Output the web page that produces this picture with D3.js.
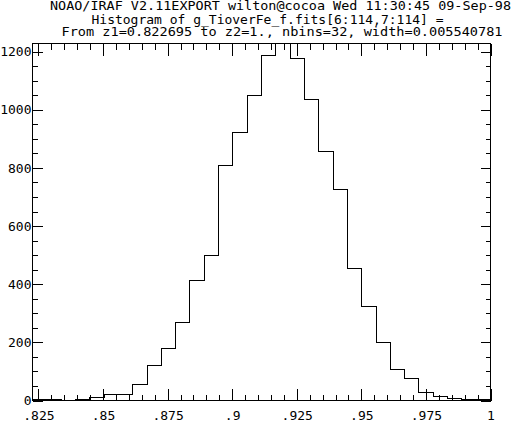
<!DOCTYPE html>
<html>
<head>
<meta charset="utf-8">
<script src="https://cdn.jsdelivr.net/npm/d3@7.9.0/dist/d3.min.js"></script>
<style>
  body { margin: 0; background: #fff; }
  svg { display: block; }
  text { font-family: "DejaVu Sans Mono", monospace; fill: #000; }
</style>
</head>
<body>
<div id="chart"></div>
<script>
// histogram from the IRAF "phistogram" plot
const z1 = 0.822695;
const z2 = 1.0;
const binWidth = 0.005540781;
const counts = [3, 2, 1, 2, 9, 20, 20, 55, 119, 178, 270, 412, 500, 810, 923, 1050,
  1188, 1228, 1177, 1037, 855, 725, 453, 324, 200, 105, 74, 29, 15, 8, 5, 2];

const xTicks = [0.825, 0.85, 0.875, 0.9, 0.925, 0.95, 0.975, 1];
const xTickLabels = [".825", ".85", ".875", ".9", ".925", ".95", ".975", "1"];
const yTicks = [0, 200, 400, 600, 800, 1000, 1200];
const yMax = 1228;

const titleLines = [
  "NOAO/IRAF V2.11EXPORT wilton@cocoa Wed 11:30:45 09-Sep-98",
  "Histogram of g_TioverFe_f.fits[6:114,7:114] =",
  "From z1=0.822695 to z2=1., nbins=32, width=0.005540781"
];

const width = 511, height = 422;
const pLeft = 32.5, pRight = 490.5, pTop = 43.5, pBottom = 400.5;

const svg = d3.select('#chart').append('svg')
  .attr('width', width)
  .attr('height', height);

svg.append('rect').attr('width', width).attr('height', height).attr('fill', '#fff');

let x = d3.scaleLinear().domain([z1, z2]).range([pLeft, pRight]);
let y = d3.scaleLinear().domain([0, yMax]).range([pBottom, pTop]);

// title block
const titlePos = [
  { x: 50, y: 10, len: 461 },
  { x: 91.5, y: 23.5, len: 352 },
  { x: 61.5, y: 36, len: 441 }
];
titleLines.forEach((t, i) => {
  svg.append('text')
    .attr('x', titlePos[i].x)
    .attr('y', titlePos[i].y)
    .attr('font-size', 11.5)
    .attr('textLength', titlePos[i].len)
    .attr('lengthAdjust', 'spacingAndGlyphs')
    .text(t);
});

// minor tick positions
const xMinor = d3.range(0.825, 1.0001, 0.005).filter(v => v <= z2);
const yMinor = d3.range(0, yMax, 50);

function styleAxis(g) {
  g.select('.domain').remove();
  g.selectAll('line').attr('stroke', '#000').attr('shape-rendering', 'crispEdges');
  g.selectAll('text').attr('font-size', 13).attr('font-family', '"DejaVu Sans Mono", monospace');
}

// bottom axis
svg.append('g').attr('transform', `translate(0,${pBottom})`)
  .call(d3.axisBottom(x).tickValues(xMinor).tickSize(-6).tickFormat(''))
  .call(styleAxis);
svg.append('g').attr('transform', `translate(0,${pBottom})`)
  .call(d3.axisBottom(x).tickValues(xTicks).tickSize(-12).tickPadding(10)
    .tickFormat((d, i) => xTickLabels[i]))
  .call(styleAxis);

// top axis
svg.append('g').attr('transform', `translate(0,${pTop})`)
  .call(d3.axisTop(x).tickValues(xMinor).tickSize(-6).tickFormat(''))
  .call(styleAxis);
svg.append('g').attr('transform', `translate(0,${pTop})`)
  .call(d3.axisTop(x).tickValues(xTicks).tickSize(-12).tickFormat(''))
  .call(styleAxis);

// left axis
svg.append('g').attr('transform', `translate(${pLeft},0)`)
  .call(d3.axisLeft(y).tickValues(yMinor).tickSize(-5).tickFormat(''))
  .call(styleAxis);
svg.append('g').attr('transform', `translate(${pLeft},0)`)
  .call(d3.axisLeft(y).tickValues(yTicks).tickSize(-10).tickPadding(1).tickFormat(d3.format('d')))
  .call(styleAxis);

// right axis
svg.append('g').attr('transform', `translate(${pRight},0)`)
  .call(d3.axisRight(y).tickValues(yMinor).tickSize(-5).tickFormat(''))
  .call(styleAxis);
svg.append('g').attr('transform', `translate(${pRight},0)`)
  .call(d3.axisRight(y).tickValues(yTicks).tickSize(-10).tickFormat(''))
  .call(styleAxis);

// histogram outline
svg.append('clipPath').attr('id', 'plot-clip')
  .append('rect').attr('x', pLeft).attr('y', pTop).attr('width', pRight - pLeft).attr('height', pBottom - pTop);

let pts = counts.map((c, i) => [z1 + i * binWidth, c]);
pts.push([z1 + counts.length * binWidth, counts[counts.length - 1]]);

let line = d3.line()
  .x(d => x(d[0]))
  .y(d => y(d[1]))
  .curve(d3.curveStepAfter);

svg.append('path')
  .attr('d', line(pts))
  .attr('fill', 'none')
  .attr('stroke', '#000')
  .attr('stroke-width', 1)
  .attr('shape-rendering', 'crispEdges')
  .attr('clip-path', 'url(#plot-clip)');

// frame
svg.append('rect')
  .attr('x', pLeft).attr('y', pTop)
  .attr('width', pRight - pLeft).attr('height', pBottom - pTop)
  .attr('fill', 'none')
  .attr('stroke', '#000')
  .attr('shape-rendering', 'crispEdges');
</script>
</body>
</html>
